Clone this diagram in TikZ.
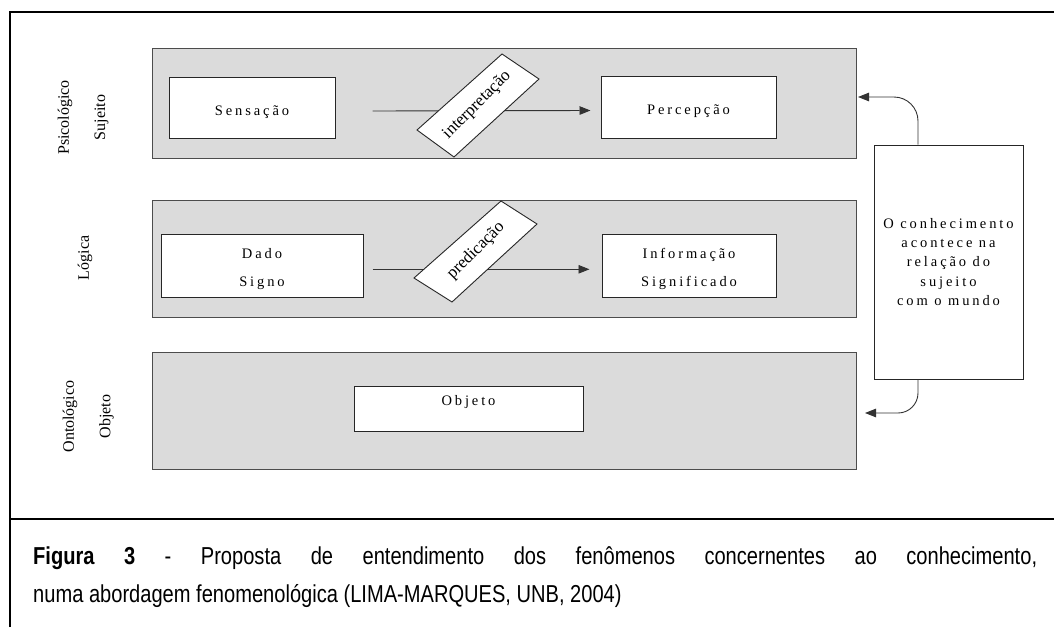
\documentclass[tikz,border=0pt]{standalone}
\usepackage{fontspec}
\setmainfont{Liberation Serif}
\newfontfamily\spacedfont[LetterSpace=20]{Liberation Serif}
\newfontfamily\capfont[FakeStretch=0.82]{Liberation Sans}
\usetikzlibrary{arrows.meta}
\begin{document}
\begin{tikzpicture}[x=1pt,y=-1pt,
  band/.style={draw=black!70, fill=black!14, line width=1pt},
  wbox/.style={draw=black!85, fill=white, line width=1pt, inner sep=0pt,
    font=\spacedfont\fontsize{14.5}{28}\selectfont, align=center},
  boxtext/.style={inner sep=0pt, align=center, font=\spacedfont\fontsize{14.5}{28}\selectfont},
  side/.style={rotate=90, inner sep=0pt, font=\fontsize{16}{18}\selectfont},
  flow/.style={draw=black!80, line width=0.9pt, -{Triangle[length=11pt,width=8.5pt]}},
  plate/.style={draw=black!85, fill=white, line width=0.9pt},
  tag/.style={rotate=45, inner sep=0pt, font=\fontsize{17}{20}\selectfont},
  caption/.style={anchor=base west, inner sep=0pt, font=\capfont\fontsize{24.5}{28}\selectfont}]
\useasboundingbox (0,0) rectangle (1054,627);

% outer frame and caption rule
\draw[line width=1.4pt] (10,627) -- (10,12) -- (1054,12);
\draw[line width=2pt] (10,519) -- (1054,519);

% the three levels
\node[band, minimum width=704pt, minimum height=110pt] (psi) at (504,103) {};
\node[band, minimum width=704pt, minimum height=117pt] (log) at (504,258.5) {};
\node[band, minimum width=704pt, minimum height=117pt] (ont) at (504,410.5) {};

% level names
\node[side] (psiA) at (65,117.5) {Psicológico};
\node[side] (psiB) at (101.5,117.5) {Sujeito};
\node[side] (logA) at (85,258) {Lógica};
\node[side] (ontA) at (70,416.5) {Ontológico};
\node[side] (ontB) at (106.5,416.5) {Objeto};

% boxes
\node[wbox, minimum width=166pt, minimum height=61pt,
  label={[boxtext, yshift=-4.5pt]center:Sensação}] (sens) at (252,107.5) {};
\node[wbox, minimum width=175pt, minimum height=62pt,
  label={[boxtext, yshift=-4.5pt]center:Percepção}] (perc) at (688.5,107) {};
\node[wbox, minimum width=202pt, minimum height=63pt,
  label={[boxtext, yshift=-3.5pt]center:Dado\\Signo}] (dado) at (262,265.5) {};
\node[wbox, minimum width=174pt, minimum height=63pt,
  label={[boxtext, yshift=-3.5pt]center:Informação\\Significado}] (info) at (689,265.5) {};
\node[wbox, minimum width=229pt, minimum height=45pt,
  label={[boxtext, yshift=6pt]center:Objeto}] (obj) at (468.5,408.5) {};
\node[wbox, minimum width=149pt, minimum height=234pt,
  font=\spacedfont\fontsize{14.5}{19.3}\selectfont] (know) at (948.5,262)
  {O conhecimento\\acontece na\\relação do\\sujeito\\com o mundo};

% transitions
\draw[flow] ([xshift=37pt,yshift=-3.5pt]sens.east) -- ([xshift=-10pt,yshift=-3.5pt]perc.west);
\draw[flow] ([xshift=9pt,yshift=-3.8pt]dado.east) -- ([xshift=-12pt,yshift=-3.8pt]info.west);

\draw[plate] (502,54) -- (539,79) -- (454,157) -- (417,130) -- cycle;
\node[tag] (interp) at (477,105) {interpretação};
\draw[plate] (501,201) -- (537,224) -- (452,302) -- (414,278) -- cycle;
\node[tag] (pred) at (476,251) {predicação};

% links from the right-hand box
\coordinate (toPsi) at (858,97);
\coordinate (toOnt) at (865,413);
\draw[flow, rounded corners=24pt] ([xshift=-30.5pt]know.north) |- (toPsi);
\draw[flow, rounded corners=20pt] ([xshift=-30.5pt]know.south) |- (toOnt);

% caption
\node[caption] (cap1) at (33,564) {\makebox[1004pt][s]{\textbf{Figura 3} - Proposta de entendimento dos fenômenos concernentes ao conhecimento,}};
\node[caption] (cap2) at (33,602) {numa abordagem fenomenológica (LIMA-MARQUES, UNB, 2004)};
\end{tikzpicture}
\end{document}
